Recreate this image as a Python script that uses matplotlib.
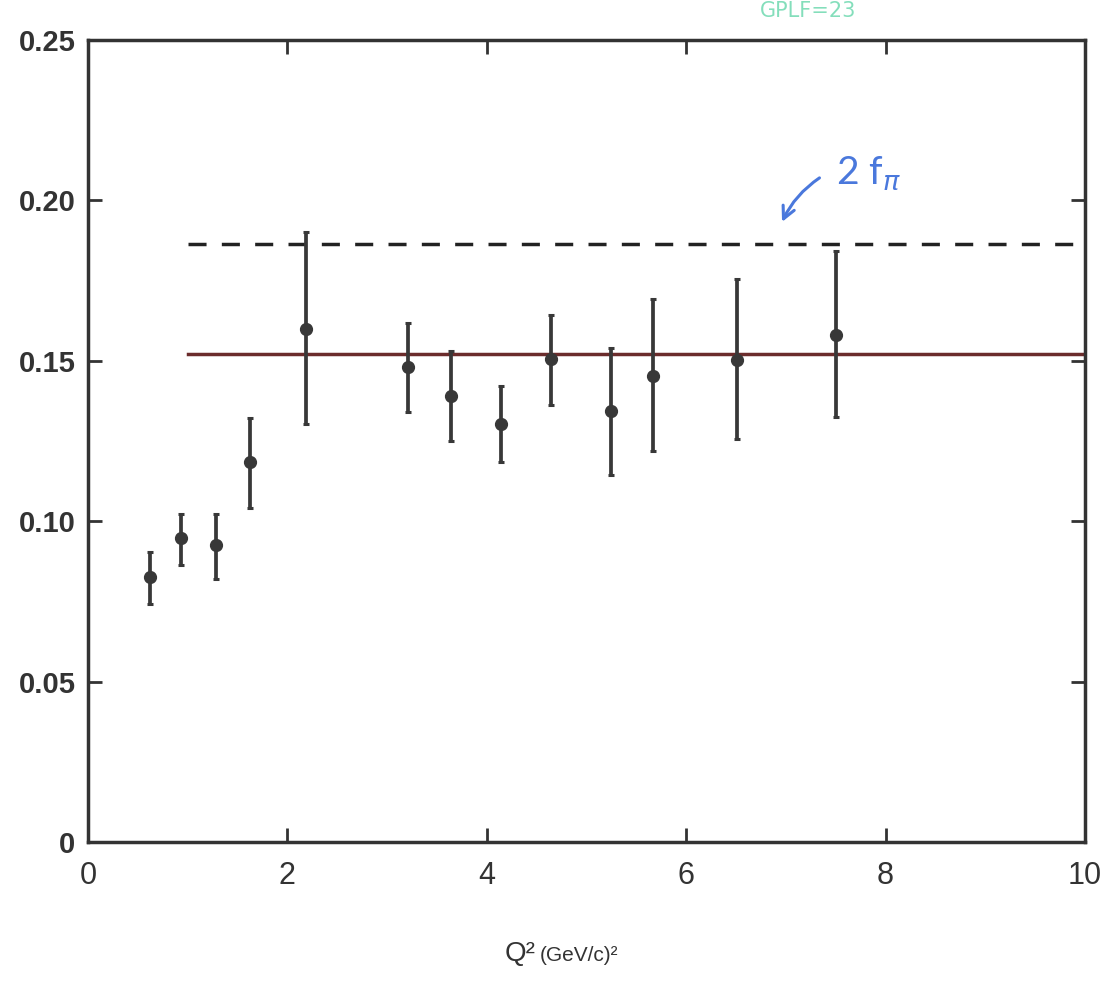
import numpy as np
import matplotlib
matplotlib.use("Agg")
import matplotlib.pyplot as plt

# Q^2 F_pi data
q2 = [0.62, 0.93, 1.28, 1.62, 2.19, 3.21, 3.64, 4.14, 4.64, 5.25, 5.67, 6.51, 7.50]
val = [0.0827, 0.0947, 0.0925, 0.1186, 0.1598, 0.1481, 0.1390, 0.1302,
       0.1506, 0.1344, 0.1452, 0.1503, 0.1580]
err_hi = [0.0903, 0.1022, 0.1024, 0.1322, 0.1902, 0.1618, 0.1531, 0.1421,
          0.1642, 0.1541, 0.1692, 0.1754, 0.1842]
err_lo = [0.0743, 0.0862, 0.0820, 0.1042, 0.1303, 0.1340, 0.1250, 0.1183,
          0.1361, 0.1145, 0.1218, 0.1255, 0.1325]

# theory curves
line_q2 = [1.0, 10.0]
solid_val = [0.152, 0.152]
dashed_val = [0.1865, 0.1865]

xticks = [0, 2, 4, 6, 8, 10]
xtick_labels = ["0", "2", "4", "6", "8", "10"]
yticks = [0, 0.05, 0.10, 0.15, 0.20, 0.25]
ytick_labels = ["0", "0.05", "0.10", "0.15", "0.20", "0.25"]

INK = "#333333"
SANS = ["Liberation Sans", "DejaVu Sans"]

fig = plt.figure(figsize=(11.05, 9.86), dpi=100)
ax = fig.add_axes([88 / 1105, 144 / 986, 997 / 1105, 802 / 986])

val = np.array(val)
yerr = [val - np.array(err_lo), np.array(err_hi) - val]
ax.errorbar(q2, val, yerr=yerr, fmt="o", color="#383838", ecolor="#383838",
            markersize=8.5, elinewidth=2.7, capsize=2.5, capthick=2.2, zorder=3)

ax.plot(line_q2, solid_val, color="#6b2c2c", lw=2.5, zorder=2)
ax.plot(line_q2, dashed_val, color="#222222", lw=2.5, dashes=(5.2, 4.4), zorder=2)

ax.set_xlim(0, 10)
ax.set_ylim(0, 0.25)

ax.set_xticks(xticks)
ax.set_xticklabels(xtick_labels, family=SANS, fontsize=22, color=INK)
ax.set_yticks(yticks)
ax.set_yticklabels(ytick_labels, family=SANS, fontweight="bold",
                   fontsize=21, color=INK)

ax.tick_params(axis="both", which="both", direction="in", length=10, width=2,
               color=INK, top=True, right=True)
ax.tick_params(axis="x", pad=14)
ax.tick_params(axis="y", pad=9)

for sp in ax.spines.values():
    sp.set_linewidth(2.5)
    sp.set_color(INK)

# axis title (two sizes as on the original)
ax.text(0.418, -0.148, "Q²", transform=ax.transAxes, family=SANS,
        fontsize=20, color=INK, ha="left", va="baseline")
ax.text(0.453, -0.148, "(GeV/c)²", transform=ax.transAxes, family=SANS,
        fontsize=15, color=INK, ha="left", va="baseline")

# handwritten note on the scan
blue = "#4a78dc"
ax.text(7.50, 0.2085, r"2 f$_\pi$", color=blue, fontsize=28,
        family=["Lato", "DejaVu Sans"], ha="left", va="center")
ax.annotate("", xy=(6.95, 0.1925), xytext=(7.36, 0.2075),
            arrowprops=dict(arrowstyle="->", color=blue, lw=2.2,
                            connectionstyle="arc3,rad=0.15",
                            mutation_scale=22))

# green scribble at the top of the scan
fig.text(0.688, 0.999, "GPLF=23", color="#6fd9b0", fontsize=15,
         ha="left", va="top", alpha=0.85)

fig.savefig("out.png", dpi=100)
